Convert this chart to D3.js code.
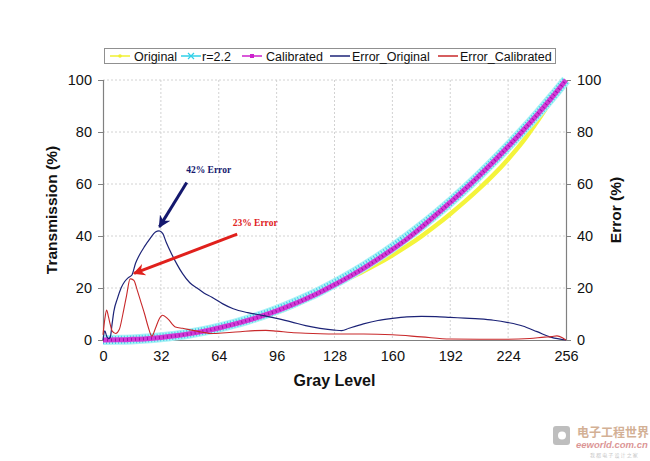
<!DOCTYPE html>
<html><head><meta charset="utf-8">
<script src="https://cdn.jsdelivr.net/npm/d3@7"></script>
<style>body{margin:0;background:#fff}svg{display:block}</style>
</head><body>
<svg id="c" width="650" height="461"></svg>
<script>
// ---- data ----
const grayLevels = [0,8,16,24,32,40,48,56,64,72,80,88,96,104,112,120,128,136,144,152,160,168,176,184,192,200,208,216,224,232,240,248,256];
const originalVals = [0,0.04,0.16,0.35,0.60,1.16,1.97,2.89,4.03,5.40,6.93,8.63,10.60,12.82,15.33,18.03,20.93,23.75,26.45,29.38,32.61,36.07,39.86,44.01,48.48,53.21,58.20,63.58,69.56,76.18,83.98,92.32,100];
const gammaVals = [0,0.05,0.22,0.55,1.03,1.68,2.52,3.53,4.74,6.14,7.74,9.54,11.56,13.79,16.22,18.88,21.76,24.87,28.20,31.76,35.56,39.59,43.85,48.36,53.10,58.09,63.33,68.81,74.55,80.53,86.76,93.25,100];
const calibratedVals = [0,0.05,0.25,0.52,1.0,1.63,2.45,3.43,4.62,5.98,7.52,9.28,11.2,13.4,15.8,18.4,21.25,24.3,27.55,31.1,34.85,38.8,43.3,48.1,52.9,57.9,63.15,68.65,74.4,80.4,86.6,93.1,100];

const errOrigX = [0,1,2,3,4,5,6,8,10,12,14,16,18,20,23,26,29,31,33,35,38,41,44,48,52,56,60,66,72,80,88,96,104,112,120,128,132,136,144,152,160,168,176,184,192,200,208,216,224,232,240,248,256];
const errOrigVals = [0,3.5,1.5,0.5,1,6,11,16,20,22.5,24,25,29.5,32.5,36,39,41.5,42,41,37.5,33,29,25.5,22,20,18,16.5,14,12,10.5,9.5,8.3,7,5.5,4.5,3.8,3.6,4.5,6.2,7.5,8.3,8.9,9.1,9,8.7,8.4,8.1,7.6,6.7,5.4,3.2,1,0];
const errCalX = [0,1,2,3,4,5,7,9,11,13,15,17,19,21,23,25,27,29,31,33,36,40,44,49,55,60,68,76,84,90,96,104,112,120,128,144,160,176,192,208,224,236,244,248,251,254,256];
const errCalVals = [2,8,11.5,9,6,3.5,2.5,4,10,17,23.5,23,19,14.5,10,5,1.5,4.5,8,9.5,8,5,4.5,3.8,3,2.5,2.8,3.2,3.6,3.7,3.4,2.9,2.6,2.4,2.3,2.3,2,1.2,0.4,0.3,0.3,0.6,1.1,1.3,1.6,0.9,0];

const xTicks = [0,32,64,96,128,160,192,224,256];
const yTicks = [0,20,40,60,80,100];
const seriesNames = ["Original","r=2.2","Calibrated","Error_Original","Error_Calibrated"];
const annoOrig = {label:"42% Error", tx:46, ty:65.4, x1:46.3, y1:60.6, x2:31.2, y2:43.5};
const annoCal = {label:"23% Error", tx:71.7, ty:45, x1:74.2, y1:40.7, x2:17.2, y2:25.6};

// ---- chart ----
const svg = d3.select("#c");
const L=103, R=566, T=80, B=340;
const x = d3.scaleLinear().domain([0,256]).range([L,R]);
const y = d3.scaleLinear().domain([0,100]).range([B,T]);
const yR = d3.scaleLinear().domain([0,100]).range([B,T]);
const font = "'Liberation Sans', Arial, sans-serif";

// grid
const grid = svg.append("g");
grid.selectAll(".gy").data(yTicks.filter(d=>d>0)).join("line")
  .attr("x1",L).attr("x2",R).attr("y1",d=>y(d)).attr("y2",d=>y(d))
  .attr("stroke","#d2d2d2").attr("stroke-dasharray","2,2").attr("stroke-width",1);
grid.selectAll(".gx").data(xTicks.filter(d=>d>0&&d<256)).join("line")
  .attr("x1",d=>x(d)).attr("x2",d=>x(d)).attr("y1",T).attr("y2",B)
  .attr("stroke","#d2d2d2").attr("stroke-dasharray","2,2").attr("stroke-width",1);

// axes
const axL = svg.append("g").attr("transform",`translate(${L},0)`)
  .call(d3.axisLeft(y).tickValues(yTicks).tickSize(5).tickPadding(6));
const axR = svg.append("g").attr("transform",`translate(${R},0)`)
  .call(d3.axisRight(yR).tickValues(yTicks).tickSize(5).tickPadding(6));
const axB = svg.append("g").attr("transform",`translate(0,${B})`)
  .call(d3.axisBottom(x).tickValues(xTicks).tickSize(0).tickPadding(11));
[axL,axR,axB].forEach(a=>{
  a.selectAll("path").attr("stroke","#808080").attr("stroke-width",1.2);
  a.selectAll("line").attr("stroke","#808080");
  a.selectAll("text").attr("font-family",font).attr("font-size",14.5).attr("fill","#111");
});
axB.select(".domain").attr("d",`M${L},0.5H${R}`);

// lines
const lineXY = (xs,ys,sc)=>d3.line().x((d,i)=>x(xs[i])).y((d,i)=>sc(ys[i])).curve(d3.curveMonotoneX)(ys);
const plot = svg.append("g");
plot.append("path").attr("d",lineXY(grayLevels,originalVals,y)).attr("fill","none")
  .attr("stroke","#f4f43a").attr("stroke-width",4.5);
plot.append("path").attr("d",lineXY(grayLevels,gammaVals,y)).attr("fill","none")
  .attr("stroke","#a8f2f6").attr("stroke-width",10);
plot.append("path").attr("d",lineXY(grayLevels,gammaVals,y)).attr("fill","none")
  .attr("stroke","#40cce8").attr("stroke-width",8).attr("stroke-dasharray","1,2");
plot.append("path").attr("d",lineXY(grayLevels,calibratedVals,y)).attr("fill","none")
  .attr("stroke","#d23ad6").attr("stroke-width",5);
plot.append("path").attr("d",lineXY(grayLevels,calibratedVals,y)).attr("fill","none")
  .attr("stroke","#a010a8").attr("stroke-width",3).attr("stroke-dasharray","1,3");
plot.append("path").attr("d",lineXY(errOrigX,errOrigVals,yR)).attr("fill","none")
  .attr("stroke","#1c2377").attr("stroke-width",1.2);
plot.append("path").attr("d",lineXY(errCalX,errCalVals,yR)).attr("fill","none")
  .attr("stroke","#c8282a").attr("stroke-width",1.1);

// axis titles
svg.append("text").attr("transform",`translate(57,${(T+B)/2}) rotate(-90)`)
  .attr("text-anchor","middle").attr("font-family",font).attr("font-weight","bold")
  .attr("font-size",15.5).attr("fill","#111").text("Transmission (%)");
svg.append("text").attr("transform",`translate(621,${(T+B)/2}) rotate(-90)`)
  .attr("text-anchor","middle").attr("font-family",font).attr("font-weight","bold")
  .attr("font-size",15.5).attr("fill","#111").text("Error (%)");
svg.append("text").attr("x",(L+R)/2).attr("y",386)
  .attr("text-anchor","middle").attr("font-family",font).attr("font-weight","bold")
  .attr("font-size",16).attr("fill","#111").text("Gray Level");

// annotations
const defs = svg.append("defs");
[["ahN","#14186e"],["ahR","#e0201c"]].forEach(([id,c])=>{
  defs.append("marker").attr("id",id).attr("viewBox","0 0 10 10").attr("refX",9).attr("refY",5)
    .attr("markerWidth",4).attr("markerHeight",4).attr("orient","auto")
    .append("path").attr("d","M0,0L10,5L0,10L3,5Z").attr("fill",c);
});
[[annoOrig,"#14186e","ahN"],[annoCal,"#e0201c","ahR"]].forEach(([a,c,m])=>{
  svg.append("line").attr("x1",x(a.x1)).attr("y1",yR(a.y1)).attr("x2",x(a.x2)).attr("y2",yR(a.y2))
    .attr("stroke",c).attr("stroke-width",3).attr("marker-end",`url(#${m})`);
  svg.append("text").attr("x",x(a.tx)).attr("y",yR(a.ty)).attr("dy","0.35em")
    .attr("font-family","'Liberation Serif','Times New Roman',serif").attr("font-weight","bold")
    .attr("font-size",9.5).attr("fill",c).text(a.label);
});

// legend
const lg = svg.append("g");
lg.append("rect").attr("x",104.5).attr("y",48.5).attr("width",451).attr("height",15)
  .attr("fill","#fff").attr("stroke","#909090");
const items = [
  {lx:110, tx:134, col:"#f0f030", mk:"dot"},
  {lx:181, tx:202, col:"#30d0e8", mk:"x"},
  {lx:242, tx:266, col:"#cc22cc", mk:"sq"},
  {lx:330, tx:352, col:"#1c2377", mk:null},
  {lx:438, tx:460, col:"#c8282a", mk:null}
];
items.forEach((it,i)=>{
  const cy=56;
  lg.append("line").attr("x1",it.lx).attr("x2",it.lx+20).attr("y1",cy).attr("y2",cy)
    .attr("stroke",it.col).attr("stroke-width",1.5);
  const mx=it.lx+10;
  if(it.mk==="dot") lg.append("circle").attr("cx",mx).attr("cy",cy).attr("r",1.8).attr("fill",it.col);
  if(it.mk==="sq") lg.append("rect").attr("x",mx-2).attr("y",cy-2).attr("width",4).attr("height",4).attr("fill",it.col);
  if(it.mk==="x") lg.append("path").attr("d",`M${mx-3},${cy-3}L${mx+3},${cy+3}M${mx-3},${cy+3}L${mx+3},${cy-3}`)
    .attr("stroke",it.col).attr("stroke-width",1.2);
  lg.append("text").attr("x",it.tx).attr("y",cy).attr("dy","0.36em")
    .attr("font-family",font).attr("font-size",12.5).attr("fill","#111").text(seriesNames[i]);
});

// watermark
const wm = svg.append("g").attr("opacity",0.55);
wm.append("rect").attr("x",553).attr("y",426).attr("width",17).attr("height",19).attr("rx",3).attr("fill","#8a8a8a");
wm.append("circle").attr("cx",562).attr("cy",435.5).attr("r",4).attr("fill","#fff");
wm.append("text").attr("x",577).attr("y",437).attr("font-family","'Noto Sans CJK SC',sans-serif")
  .attr("font-weight","bold").attr("font-size",12).attr("fill","#b07040").text("电子工程世界");
wm.append("text").attr("x",576).attr("y",448).attr("font-family",font).attr("font-style","italic")
  .attr("font-weight","bold").attr("font-size",9.5).attr("fill","#c04040").text("eeworld.com.cn");
wm.append("text").attr("x",590).attr("y",457).attr("font-family","'Noto Sans CJK SC',sans-serif")
  .attr("font-size",5).attr("fill","#999").text("我 都 电 子 设 计 之 家");
</script>
</body></html>
